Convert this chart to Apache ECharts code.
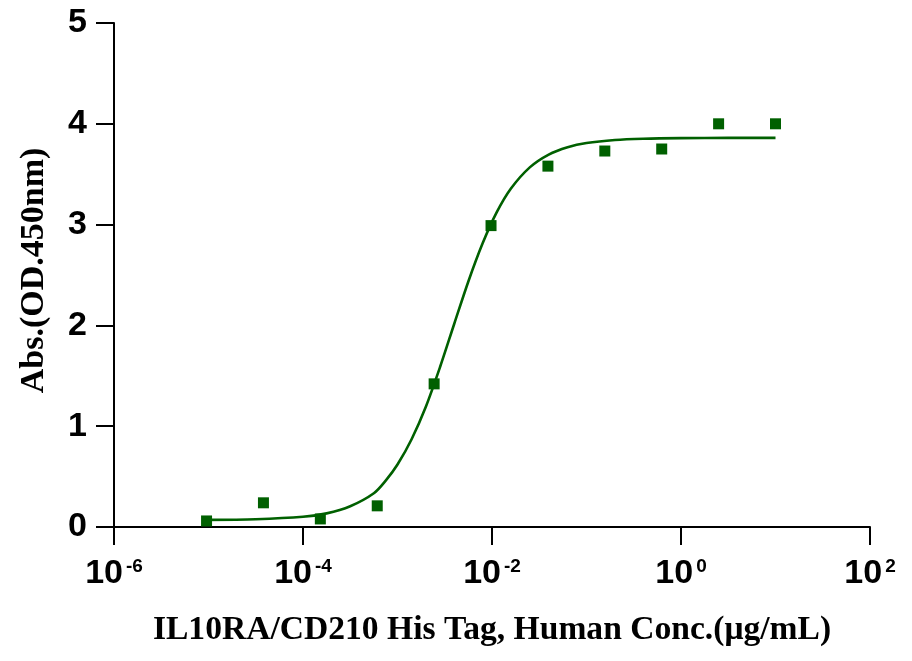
<!DOCTYPE html>
<html>
<head>
<meta charset="utf-8">
<script src="https://cdn.jsdelivr.net/npm/echarts@6/dist/echarts.min.js"></script>
<style>
  html, body { margin: 0; padding: 0; background: #ffffff; }
  #chart { width: 912px; height: 661px; }
</style>
</head>
<body>
<div id="chart"></div>
<script>
// Measured points: concentration (µg/mL) and absorbance
const concentrations = [10, 2.5, 0.625, 0.15625, 0.0390625, 0.009765625, 0.00244140625,
  0.0006103515625, 0.000152587890625, 0.00003814697265625, 0.0000095367431640625];
const absorbance = [4.00, 4.00, 3.75, 3.73, 3.58, 2.99, 1.42, 0.21, 0.08, 0.24, 0.06];

// Fitted curve
const curveX = [9.55e-6, 3.16e-5, 1e-4, 1.78e-4, 3.16e-4, 5.62e-4, 7.5e-4, 1e-3, 1.41e-3, 2.0e-3,
  2.82e-3, 3.98e-3, 5.62e-3, 7.94e-3, 1.12e-2, 1.58e-2, 2.51e-2, 3.98e-2, 6.31e-2, 0.1,
  0.2, 0.398, 1, 3.16, 10];
const curveY = [0.071, 0.077, 0.101, 0.135, 0.206, 0.335, 0.46, 0.620, 0.871, 1.196,
  1.587, 2.014, 2.436, 2.812, 3.121, 3.356, 3.568, 3.695, 3.768, 3.810,
  3.840, 3.852, 3.858, 3.860, 3.860];

const xTitle = 'IL10RA/CD210 His Tag, Human Conc.(μg/mL)';
const yTitle = 'Abs.(OD.450nm)';
const yMin = 0, yMax = 5, yStep = 1;
const xMin = 1e-6, xMax = 1e2, xDecadeStep = 2;

const green = '#006000';
const chart = echarts.init(document.getElementById('chart'), null, { renderer: 'canvas' });

chart.setOption({
  animation: false,
  backgroundColor: '#ffffff',
  grid: { left: 114, right: 42, top: 23, bottom: 134, containLabel: false },
  xAxis: {
    type: 'log',
    logBase: 10,
    min: xMin,
    max: xMax,
    interval: xDecadeStep,
    name: xTitle,
    nameLocation: 'middle',
    nameGap: 86,
    nameTextStyle: { fontFamily: 'Liberation Serif', fontWeight: 'bold', fontSize: 33.6, color: '#000' },
    axisLine: { lineStyle: { color: '#000', width: 2 } },
    axisTick: { show: true, length: 18, lineStyle: { color: '#000', width: 2 } },
    minorTick: { show: false },
    splitLine: { show: false },
    axisLabel: {
      margin: 30,
      formatter: function (v) {
        const e = Math.round(Math.log10(v));
        return '{b|10}{s|' + e + '}';
      },
      rich: {
        b: { fontFamily: 'Liberation Sans', fontWeight: 'bold', fontSize: 34, lineHeight: 34, color: '#000' },
        s: { fontFamily: 'Liberation Sans', fontWeight: 'bold', fontSize: 19, lineHeight: 24, verticalAlign: 'top', color: '#000', padding: [0, 0, 0, 3] }
      }
    }
  },
  yAxis: {
    type: 'value',
    min: yMin,
    max: yMax,
    interval: yStep,
    name: yTitle,
    nameLocation: 'middle',
    nameGap: 63,
    nameTextStyle: { fontFamily: 'Liberation Serif', fontWeight: 'bold', fontSize: 34, color: '#000', padding: [0, 0, 0, 9] },
    axisLine: { show: true, lineStyle: { color: '#000', width: 2 } },
    axisTick: { show: true, length: 18, lineStyle: { color: '#000', width: 2 } },
    splitLine: { show: false },
    axisLabel: { margin: 27, fontFamily: 'Liberation Sans', fontWeight: 'bold', fontSize: 34, color: '#000' }
  },
  series: [
    {
      type: 'line',
      data: curveX.map((x, i) => [x, curveY[i]]),
      smooth: 0.3,
      showSymbol: false,
      lineStyle: { color: green, width: 2.6 },
      z: 2
    },
    {
      type: 'scatter',
      data: concentrations.map((x, i) => [x, absorbance[i]]),
      symbol: 'rect',
      symbolSize: 11,
      itemStyle: { color: green, opacity: 1 },
      z: 3
    }
  ]
});
</script>
</body>
</html>
